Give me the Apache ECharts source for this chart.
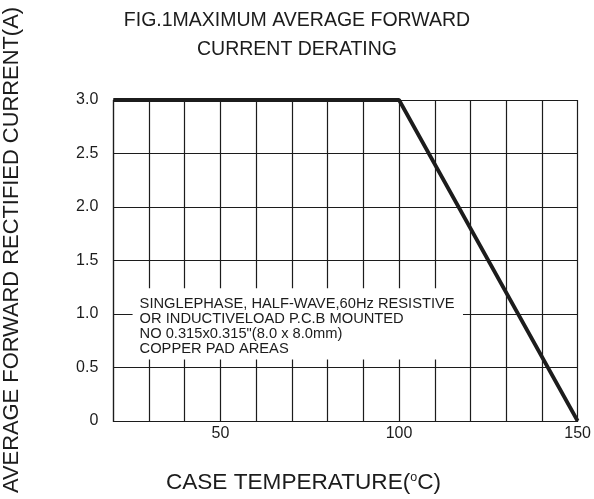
<!DOCTYPE html>
<html>
<head>
<meta charset="utf-8">
<script src="https://cdn.jsdelivr.net/npm/echarts@6/dist/echarts.min.js"></script>
<style>html,body{margin:0;padding:0;background:#fff;overflow:hidden}#c{width:100vw;height:100vh}</style>
</head>
<body>
<div id="c"></div>
<script>
// Data
var caseTempC = [20, 100, 150];
var currentA = [3.0, 3.0, 0.0];
var xLabeled = [50, 100, 150];
var noteLines = [
  'SINGLEPHASE, HALF-WAVE,60Hz RESISTIVE',
  'OR INDUCTIVELOAD P.C.B MOUNTED',
  'NO 0.315x0.315"(8.0 x 8.0mm)',
  'COPPER PAD AREAS'
];
var noteBoxX = [25.4, 117.9];
var noteBoxY = [0.575, 1.24];

var F = 'Liberation Sans, Arial, Helvetica, sans-serif';
var ink = '#1c1c1c';
var chart = echarts.init(document.getElementById('c'), null, {renderer: 'canvas'});
var pts = caseTempC.map(function (x, i) { return [x, currentA[i]]; });

chart.setOption({
  backgroundColor: '#fff',
  animation: false,
  title: {
    text: 'FIG.1MAXIMUM AVERAGE FORWARD\nCURRENT DERATING',
    left: 'center', top: 6, padding: 0,
    textStyle: {fontFamily: F, fontSize: 19.5, fontWeight: 'normal', color: ink, lineHeight: 29, align: 'center'}
  },
  grid: {left: 113.3, right: 11.3, top: 100, bottom: 75.3, containLabel: false},
  xAxis: {
    type: 'value', min: 20, max: 150, interval: 10,
    axisLine: {show: true, lineStyle: {color: ink, width: 1.2}},
    axisTick: {show: false},
    splitLine: {show: true, lineStyle: {color: ink, width: 1.2}},
    axisLabel: {
      margin: 5, fontFamily: F, fontSize: 16, color: ink,
      formatter: function (v) { return xLabeled.indexOf(v) >= 0 ? String(v) : ''; }
    },
    name: '{a|CASE TEMPERATURE(}{s|o}{a|C)}',
    nameLocation: 'middle', nameGap: 50,
    nameTextStyle: {
      padding: [0, 84, 0, 0],
      rich: {
        a: {fontFamily: F, fontSize: 22.6, color: ink},
        s: {fontFamily: F, fontSize: 12.5, color: ink, verticalAlign: 'top'}
      }
    }
  },
  yAxis: {
    type: 'value', min: 0, max: 3, interval: 0.5,
    axisLine: {show: true, lineStyle: {color: ink, width: 1.2}},
    axisTick: {show: false},
    splitLine: {show: true, lineStyle: {color: ink, width: 1.2}},
    axisLabel: {
      margin: 15, fontFamily: F, fontSize: 16, color: ink,
      formatter: function (v) { return v === 0 ? '0' : v.toFixed(1); }
    }
  },
  graphic: [{
    type: 'text', x: 12, y: 250, rotation: Math.PI / 2,
    style: {
      text: 'AVERAGE FORWARD RECTIFIED CURRENT(A)',
      fontFamily: F, fontSize: 21.9, fill: ink,
      align: 'center', verticalAlign: 'middle'
    }
  }],
  series: [{
    type: 'line', data: pts, symbol: 'none', clip: false,
    lineStyle: {color: ink, width: 3.8},
    z: 3,
    markArea: {
      silent: true,
      itemStyle: {color: '#fff', opacity: 1},
      label: {
        show: true, position: [7, 8],
        fontFamily: F, fontSize: 14.7, color: ink, lineHeight: 15,
        align: 'left', verticalAlign: 'top',
        formatter: noteLines.join('\n')
      },
      data: [[{xAxis: noteBoxX[0], yAxis: noteBoxY[1]}, {xAxis: noteBoxX[1], yAxis: noteBoxY[0]}]]
    }
  }]
});
</script>
</body>
</html>
